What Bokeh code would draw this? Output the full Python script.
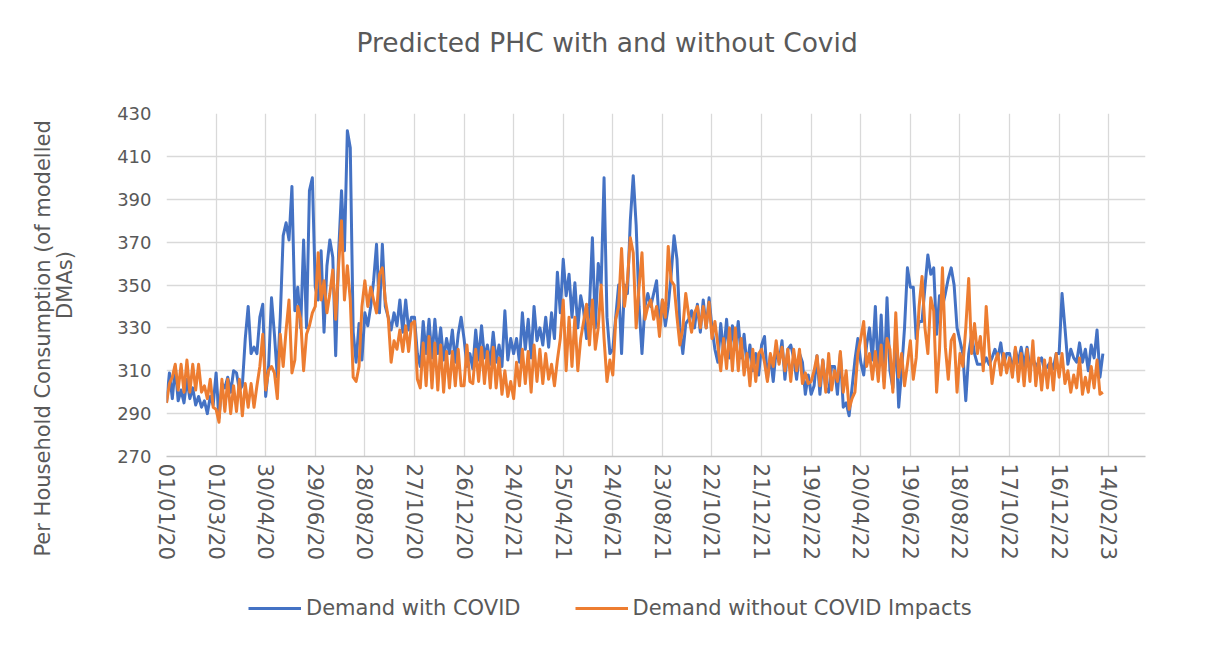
from bokeh.plotting import figure
from bokeh.layouts import column
from bokeh.models import FixedTicker, LinearAxis, Legend, LegendItem, Range1d
from bokeh.embed import file_html
from bokeh.resources import INLINE

# ---------------- data ----------------
title_text = "Predicted PHC with and without Covid"
y_title_line1 = "Per Household Consumption (of modelled"
y_title_line2 = "DMAs)"
series_names = ["Demand with COVID", "Demand without COVID Impacts"]

tick_labels = ["01/01/20", "01/03/20", "30/04/20", "29/06/20", "28/08/20",
               "27/10/20", "26/12/20", "24/02/21", "25/04/21", "24/06/21",
               "23/08/21", "22/10/21", "21/12/21", "19/02/22", "20/04/22",
               "19/06/22", "18/08/22", "17/10/22", "16/12/22", "14/02/23"]
tick_step_days = 60
y_ticks = [270, 290, 310, 330, 350, 370, 390, 410, 430]

# readings taken every 60/17 days starting 01/01/2020
reading_step_days = 60 / 17

with_covid = [
    295, 309, 297, 312, 296, 301, 295, 306, 297, 302, 294, 298, 293, 296, 290, 298, 294,
    309, 288, 304, 302, 307, 300, 310, 309, 301, 303, 325, 340, 318, 321, 318, 335, 341,
    298, 312, 344, 327, 307, 335, 373, 379, 371, 396, 338, 349, 330, 371, 330, 394, 400,
    349, 343, 366, 328, 359, 371, 363, 317, 365, 394, 366, 422, 414, 328, 314, 332, 315,
    337, 331, 340, 352, 369, 337, 369, 340, 335, 329, 337, 331, 343, 328, 343, 329, 335,
    335, 318, 312, 333, 318, 334, 316, 334, 318, 330, 315, 325, 318, 329, 314, 327, 335,
    325, 312, 318, 311, 329, 315, 331, 316, 322, 313, 328, 314, 322, 312, 338, 315, 325,
    318, 325, 314, 337, 320, 334, 316, 340, 324, 330, 322, 335, 321, 337, 325, 356, 337,
    362, 345, 355, 335, 351, 330, 345, 338, 325, 340, 372, 330, 360, 350, 400, 335, 318,
    320, 335, 350, 318, 350, 346, 380, 401, 378, 340, 318, 340, 346, 340, 346, 352, 330,
    343, 331, 340, 355, 373, 362, 330, 318, 332, 334, 338, 330, 341, 328, 343, 330, 344,
    330, 320, 314, 332, 318, 334, 316, 331, 320, 333, 316, 327, 312, 322, 310, 318, 308,
    322, 326, 306, 317, 305, 320, 314, 324, 306, 320, 322, 316, 306, 318, 314, 299, 308,
    299, 303, 317, 299, 315, 302, 300, 312, 312, 299, 318, 293, 295, 289, 302, 315, 325,
    314, 308, 322, 330, 315, 340, 308, 336, 305, 344, 310, 302, 327, 293, 310, 330, 358,
    349, 349, 325, 333, 333, 349, 364, 355, 358, 327, 345, 340, 346, 353, 358, 350, 330,
    324, 318, 296, 318, 327, 318, 313, 313, 313, 316, 313, 316, 320, 316, 323, 313, 318,
    318, 310, 320, 314, 321, 312, 321, 311, 316, 312, 314, 316, 310, 312, 314, 311, 318,
    318, 346, 330, 313, 320, 316, 314, 323, 314, 320, 310, 322, 316, 329, 307, 318,
]

without_covid = [
    295, 304, 307, 313, 301, 313, 300, 315, 300, 313, 301, 313, 300, 303, 297, 306, 293,
    292, 286, 306, 291, 306, 290, 303, 291, 306, 289, 304, 293, 304, 293, 303, 312, 327,
    301, 310, 312, 309, 297, 327, 312, 329, 343, 309, 315, 340, 334, 310, 327, 331, 337,
    340, 365, 343, 352, 337, 346, 357, 334, 359, 380, 343, 359, 343, 307, 305, 312, 340,
    352, 340, 349, 343, 337, 355, 358, 343, 335, 314, 324, 320, 329, 319, 331, 319, 332,
    333, 306, 302, 323, 303, 326, 302, 323, 301, 322, 300, 319, 302, 319, 303, 320, 303,
    303, 322, 305, 304, 320, 305, 321, 304, 319, 302, 321, 302, 316, 299, 310, 298, 305,
    297, 314, 303, 320, 304, 319, 300, 322, 305, 320, 304, 318, 306, 313, 303, 315, 325,
    343, 310, 335, 312, 335, 310, 325, 333, 341, 322, 343, 320, 330, 350, 325, 305, 315,
    308, 334, 340, 367, 340, 352, 372, 365, 330, 349, 365, 334, 340, 343, 334, 340, 326,
    343, 335, 368, 352, 350, 335, 322, 330, 346, 336, 328, 337, 340, 330, 340, 330, 342,
    325, 333, 322, 310, 325, 311, 330, 310, 330, 310, 325, 308, 318, 303, 320, 305, 318,
    320, 314, 305, 318, 312, 324, 313, 321, 310, 320, 305, 320, 310, 320, 304, 309, 304,
    305, 310, 317, 303, 315, 300, 318, 301, 310, 305, 319, 300, 310, 292, 297, 300, 318,
    325, 333, 312, 318, 306, 319, 305, 322, 302, 325, 320, 300, 337, 307, 318, 303, 313,
    324, 306, 316, 340, 354, 330, 318, 344, 338, 300, 320, 358, 321, 306, 324, 327, 300,
    318, 312, 330, 353, 318, 332, 318, 326, 310, 340, 320, 304, 314, 318, 308, 318, 309,
    316, 307, 321, 305, 318, 303, 320, 305, 324, 303, 316, 301, 315, 302, 316, 301, 318,
    307, 318, 304, 310, 300, 308, 302, 316, 299, 307, 300, 312, 302, 315, 299, 300,
]

# ---------------- styling ----------------
FONT = "DejaVu Sans"
GREY = "#595959"
GRID = "#d9d9d9"
BLUE = "#4472C4"
ORANGE = "#ED7D31"
W = 1192

days_blue = [i * reading_step_days for i in range(len(with_covid))]
days_orange = [i * reading_step_days for i in range(len(without_covid))]
x_ticks = [i * tick_step_days for i in range(len(tick_labels))]


def bare_figure(height):
    f = figure(width=W, height=height, output_backend="svg", toolbar_location=None,
               x_axis_location=None, y_axis_location=None,
               x_range=Range1d(0, 1), y_range=Range1d(0, 1),
               min_border_left=0, min_border_right=0,
               min_border_top=0, min_border_bottom=0)
    f.outline_line_color = None
    f.grid.visible = False
    f.background_fill_color = "white"
    f.border_fill_color = "white"
    return f


# ---- title strip ----
tf = bare_figure(101)
tf.title.text = title_text
tf.title.text_font = FONT
tf.title.text_font_size = "26.5px"
tf.title.text_font_style = "normal"
tf.title.text_color = GREY
tf.title.align = "left"
tf.title.offset = 190
tf.title.vertical_align = "top"
tf.title.standoff = 52

# ---- main chart ----
p = figure(width=W, height=467, x_range=(0, 1184.5), y_range=(270, 430),
           output_backend="svg", toolbar_location=None, title=None,
           min_border_left=166, min_border_right=47,
           min_border_top=12, min_border_bottom=112)
p.outline_line_color = None
p.background_fill_color = "white"
p.border_fill_color = "white"

p.line(days_blue, with_covid, line_color=BLUE, line_width=3, line_join="round")
p.line(days_orange, without_covid, line_color=ORANGE, line_width=3, line_join="round")

xax = p.xaxis[0]
xax.ticker = FixedTicker(ticks=x_ticks)
p.xgrid.ticker = FixedTicker(ticks=x_ticks)
xax.major_label_overrides = {t: lab for t, lab in zip(x_ticks, tick_labels)}
xax.major_label_orientation = "vertical"
xax.major_label_text_font = FONT
xax.major_label_text_font_size = "21.5px"
xax.major_label_text_color = GREY
xax.major_label_standoff = 7
xax.major_tick_line_color = None
xax.minor_tick_line_color = None
xax.major_tick_out = 0
xax.major_tick_in = 0
xax.minor_tick_out = 0
xax.minor_tick_in = 0
xax.axis_line_color = "#c4c4c4"
xax.axis_line_width = 1.5

yax = p.yaxis[0]
yax.ticker = FixedTicker(ticks=y_ticks)
p.ygrid.ticker = FixedTicker(ticks=y_ticks)
yax.major_label_text_font = FONT
yax.major_label_text_font_size = "18px"
yax.major_label_text_color = GREY
yax.major_label_standoff = 15
yax.major_tick_line_color = None
yax.minor_tick_line_color = None
yax.major_tick_out = 0
yax.major_tick_in = 0
yax.minor_tick_out = 0
yax.minor_tick_in = 0
yax.axis_line_color = None
yax.axis_label = y_title_line2
yax.axis_label_text_font = FONT
yax.axis_label_text_font_size = "21px"
yax.axis_label_text_font_style = "normal"
yax.axis_label_text_color = GREY
yax.axis_label_standoff = 37

# outer line of the two-line y-axis title (an extra, tick-less axis)
yax2 = LinearAxis(ticker=FixedTicker(ticks=[]))
yax2.axis_line_color = None
yax2.major_tick_line_color = None
yax2.minor_tick_line_color = None
yax2.major_tick_out = 0
yax2.major_tick_in = 0
yax2.minor_tick_out = 0
yax2.minor_tick_in = 0
yax2.major_label_standoff = 0
yax2.axis_label = y_title_line1 + " " * 16
yax2.axis_label_text_font = FONT
yax2.axis_label_text_font_size = "21px"
yax2.axis_label_text_font_style = "normal"
yax2.axis_label_text_color = GREY
yax2.axis_label_standoff = -4
p.add_layout(yax2, "left")

for g in (p.xgrid, p.ygrid):
    g.grid_line_color = GRID
    g.grid_line_width = 1.3

# ---- legend strip (same series, drawn outside its empty view) ----
lf = bare_figure(69)
l_blue = lf.line(days_blue, with_covid, line_color=BLUE, line_width=3)
l_orange = lf.line(days_orange, without_covid, line_color=ORANGE, line_width=3)
lg = Legend(items=[LegendItem(label=series_names[0], renderers=[l_blue]),
                   LegendItem(label=series_names[1], renderers=[l_orange])])
lg.orientation = "horizontal"
lg.location = (82, 17)
lg.border_line_color = None
lg.background_fill_alpha = 0
lg.padding = 0
lg.margin = 0
lg.spacing = 54
lg.label_standoff = 5
lg.glyph_width = 53
lg.glyph_height = 24
lg.label_height = 24
lg.label_text_font = FONT
lg.label_text_font_size = "21px"
lg.label_text_color = GREY
lf.add_layout(lg, "center")

layout = column(tf, p, lf, spacing=0)
open("out.html", "w").write(file_html(layout, INLINE))
